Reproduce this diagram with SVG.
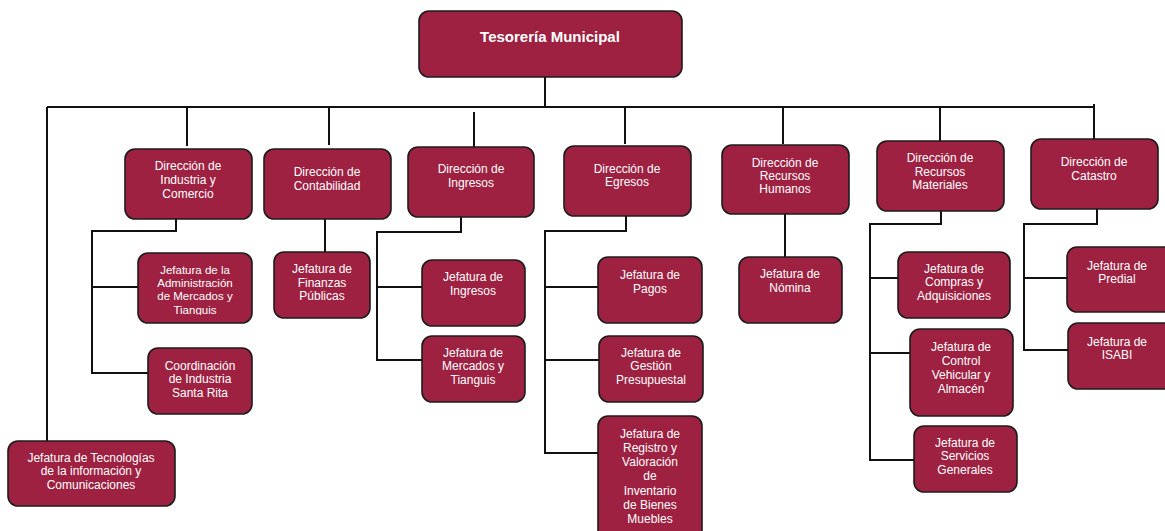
<svg xmlns="http://www.w3.org/2000/svg" width="1165" height="531" viewBox="0 0 1165 531">
<style>
.b{fill:#9E2142;stroke:#1c1c1c;stroke-width:1.6}
.t{fill:#fff;font-family:"Liberation Sans",Arial,sans-serif;font-size:12px;text-anchor:middle}
.s{font-size:11.5px}
.h{font-size:15px;font-weight:bold}
.c{fill:none;stroke:#111;stroke-width:2}
</style>
<defs>
<clipPath id="clipAdm"><rect x="130" y="240" width="130" height="75"/></clipPath>
</defs>
<rect width="1165" height="531" fill="#fff"/>
<g id="connectors" class="c">
<path d="M545,77 V107"/>
<path d="M47,107 H1095"/>
<path d="M47,107 V441"/>
<path d="M187,107 V146"/>
<path d="M329,107 V145"/>
<path d="M474,112 V147"/>
<path d="M625,107 V144"/>
<path d="M783,107 V144"/>
<path d="M940,107 V141"/>
<path d="M1094,104 V139"/>
<path d="M176,219 V231 H92 V373 H148"/>
<path d="M92,287 H138"/>
<path d="M325,219 V252"/>
<path d="M461,217 V232 H377 V360 H422"/>
<path d="M377,287 H422"/>
<path d="M626,216 V231 H545 V453 H598"/>
<path d="M545,287 H598"/>
<path d="M545,360 H599"/>
<path d="M785,214 V257"/>
<path d="M941,211 V224 H870 V460 H914"/>
<path d="M870,278 H898"/>
<path d="M870,353 H910"/>
<path d="M1097,209 V224 H1024 V350 H1068"/>
<path d="M1024,278 H1067"/>
</g>
<g id="n-tesoreria"><rect class="b" x="419" y="11" width="263" height="66" rx="10"/><text class="t h" x="550" y="42">Tesorería Municipal</text></g>
<g id="n-industria"><rect class="b" x="125" y="149" width="127" height="70" rx="10"/><text class="t" x="188"><tspan x="188" y="170">Dirección de</tspan><tspan x="188" y="184">Industria y</tspan><tspan x="188" y="198">Comercio</tspan></text></g>
<g id="n-contabilidad"><rect class="b" x="264" y="149" width="127" height="70" rx="10"/><text class="t" x="327"><tspan x="327" y="176">Dirección de</tspan><tspan x="327" y="190">Contabilidad</tspan></text></g>
<g id="n-ingresos"><rect class="b" x="408" y="147" width="126" height="70" rx="10"/><text class="t"><tspan x="471" y="173">Dirección de</tspan><tspan x="471" y="187">Ingresos</tspan></text></g>
<g id="n-egresos"><rect class="b" x="564" y="146" width="127" height="70" rx="10"/><text class="t"><tspan x="627" y="173">Dirección de</tspan><tspan x="627" y="186">Egresos</tspan></text></g>
<g id="n-rh"><rect class="b" x="722" y="145" width="127" height="69" rx="10"/><text class="t"><tspan x="785" y="167">Dirección de</tspan><tspan x="785" y="180">Recursos</tspan><tspan x="785" y="193">Humanos</tspan></text></g>
<g id="n-rm"><rect class="b" x="877" y="141" width="127" height="70" rx="10"/><text class="t"><tspan x="940" y="162">Dirección de</tspan><tspan x="940" y="176">Recursos</tspan><tspan x="940" y="189">Materiales</tspan></text></g>
<g id="n-catastro"><rect class="b" x="1031" y="139" width="127" height="70" rx="10"/><text class="t"><tspan x="1094" y="166">Dirección de</tspan><tspan x="1094" y="180">Catastro</tspan></text></g>
<g id="n-admin"><rect class="b" x="138" y="253" width="114" height="70" rx="10"/><text class="t s" clip-path="url(#clipAdm)"><tspan x="195" y="274">Jefatura de la</tspan><tspan x="195" y="287">Administración</tspan><tspan x="195" y="300">de Mercados y</tspan><tspan x="195" y="314">Tianguis</tspan></text></g>
<g id="n-coord"><rect class="b" x="148" y="348" width="104" height="66" rx="10"/><text class="t"><tspan x="200" y="370">Coordinación</tspan><tspan x="200" y="383">de Industria</tspan><tspan x="200" y="397">Santa Rita</tspan></text></g>
<g id="n-finanzas"><rect class="b" x="274" y="252" width="96" height="66" rx="10"/><text class="t"><tspan x="322" y="273">Jefatura de</tspan><tspan x="322" y="287">Finanzas</tspan><tspan x="322" y="300">Públicas</tspan></text></g>
<g id="n-jingresos"><rect class="b" x="422" y="260" width="103" height="66" rx="10"/><text class="t"><tspan x="473" y="281">Jefatura de</tspan><tspan x="473" y="295">Ingresos</tspan></text></g>
<g id="n-mercados"><rect class="b" x="422" y="336" width="103" height="66" rx="10"/><text class="t"><tspan x="473" y="357">Jefatura de</tspan><tspan x="473" y="370">Mercados y</tspan><tspan x="473" y="384">Tianguis</tspan></text></g>
<g id="n-pagos"><rect class="b" x="598" y="257" width="104" height="66" rx="10"/><text class="t"><tspan x="650" y="279">Jefatura de</tspan><tspan x="650" y="293">Pagos</tspan></text></g>
<g id="n-gestion"><rect class="b" x="599" y="336" width="104" height="66" rx="10"/><text class="t"><tspan x="651" y="357">Jefatura de</tspan><tspan x="651" y="370">Gestión</tspan><tspan x="651" y="384">Presupuestal</tspan></text></g>
<g id="n-registro"><rect class="b" x="598" y="416" width="104" height="130" rx="10"/><text class="t"><tspan x="650" y="438">Jefatura de</tspan><tspan x="650" y="452">Registro y</tspan><tspan x="650" y="466">Valoración</tspan><tspan x="650" y="480">de</tspan><tspan x="650" y="495">Inventario</tspan><tspan x="650" y="509">de Bienes</tspan><tspan x="650" y="523">Muebles</tspan></text></g>
<g id="n-nomina"><rect class="b" x="739" y="257" width="103" height="66" rx="10"/><text class="t"><tspan x="790" y="278">Jefatura de</tspan><tspan x="790" y="292">Nómina</tspan></text></g>
<g id="n-compras"><rect class="b" x="898" y="252" width="112" height="66" rx="10"/><text class="t"><tspan x="954" y="273">Jefatura de</tspan><tspan x="954" y="286">Compras y</tspan><tspan x="954" y="300">Adquisiciones</tspan></text></g>
<g id="n-control"><rect class="b" x="910" y="329" width="103" height="87" rx="10"/><text class="t"><tspan x="961" y="351">Jefatura de</tspan><tspan x="961" y="365">Control</tspan><tspan x="961" y="379">Vehicular y</tspan><tspan x="961" y="393">Almacén</tspan></text></g>
<g id="n-servicios"><rect class="b" x="914" y="426" width="103" height="66" rx="10"/><text class="t"><tspan x="965" y="447">Jefatura de</tspan><tspan x="965" y="460">Servicios</tspan><tspan x="965" y="474">Generales</tspan></text></g>
<g id="n-predial"><rect class="b" x="1067" y="247" width="112" height="65" rx="10"/><text class="t"><tspan x="1117" y="270">Jefatura de</tspan><tspan x="1117" y="283">Predial</tspan></text></g>
<g id="n-isabi"><rect class="b" x="1068" y="323" width="112" height="66" rx="10"/><text class="t"><tspan x="1117" y="346">Jefatura de</tspan><tspan x="1117" y="359">ISABI</tspan></text></g>
<g id="n-tecnologias"><rect class="b" x="8" y="441" width="167" height="65" rx="10"/><text class="t"><tspan x="91" y="462">Jefatura de Tecnologías</tspan><tspan x="91" y="475">de la información y</tspan><tspan x="91" y="489">Comunicaciones</tspan></text></g>
</svg>
